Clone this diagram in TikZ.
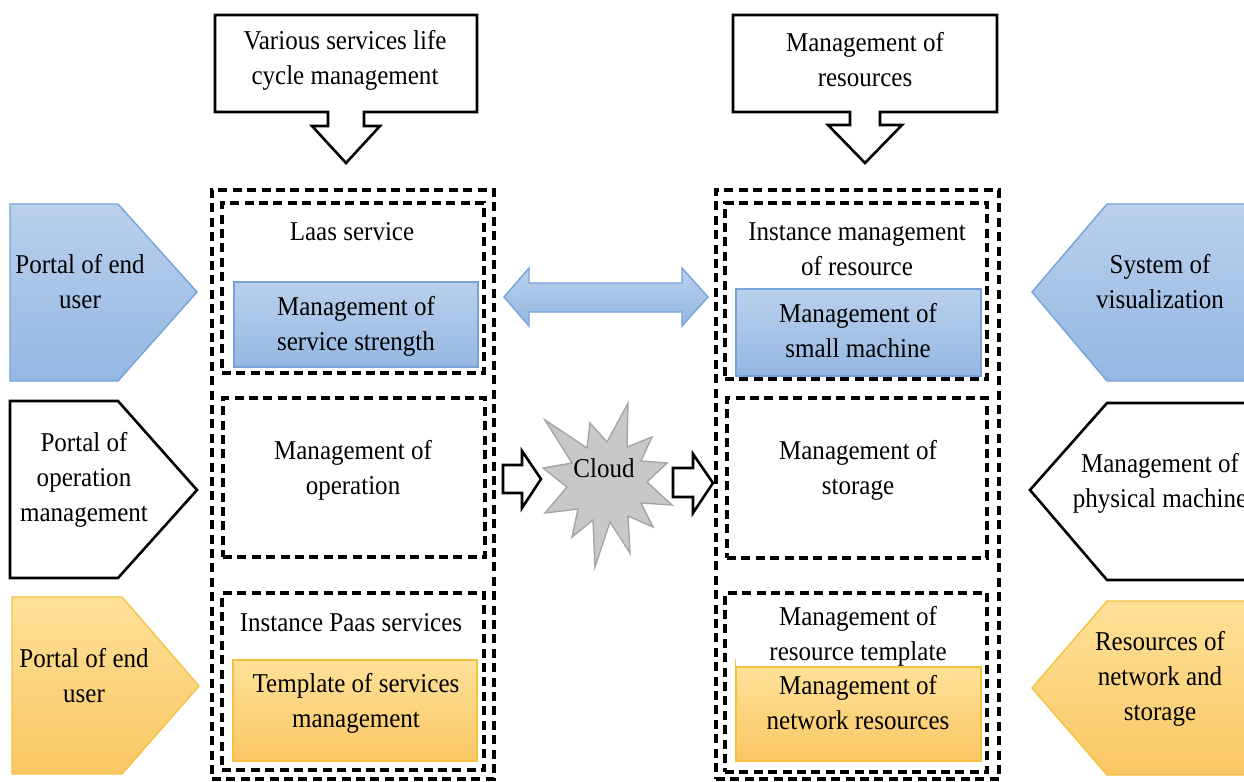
\documentclass[tikz,border=0pt]{standalone}
\usepackage{fontspec}
\setmainfont{Liberation Serif}[FakeStretch=0.92]
\usetikzlibrary{fit}
\definecolor{bluetop}{RGB}{186,208,236}
\definecolor{bluebot}{RGB}{148,183,226}
\definecolor{blueedge}{RGB}{118,163,219}
\definecolor{yeltop}{RGB}{254,225,152}
\definecolor{yelbot}{RGB}{249,199,100}
\definecolor{yeledge}{RGB}{246,193,66}
\definecolor{cloudfill}{RGB}{200,200,200}
\definecolor{cloudedge}{RGB}{165,165,165}
\begin{document}
\begin{tikzpicture}[x=0.5pt,y=-0.5pt,
  txt/.style={align=center, font=\fontsize{13.6}{17.5}\selectfont, inner sep=0pt},
  solidline/.style={draw=black, line width=1.3pt, line join=miter},
  dashbox/.style={draw=black, line width=1.6pt, dash pattern=on 4.5pt off 2.7pt, inner sep=0pt},
  bluefill/.style={top color=bluetop, bottom color=bluebot, draw=blueedge, line width=0.7pt, inner sep=0pt},
  yelfill/.style={top color=yeltop, bottom color=yelbot, draw=yeledge, line width=0.7pt, inner sep=0pt},
  cloudstyle/.style={fill=cloudfill, draw=cloudedge, line width=0.7pt, line join=miter},
  ]
\useasboundingbox (0,0) rectangle (1244,782);
\fill[white] (0,0) rectangle (1244,782);
\clip (0,0) rectangle (1244,782);

% ---- top callouts
\draw[solidline, fill=white] (215,15) -- (477,15) -- (477,112) -- (364,112) -- (364,126) -- (380,126)
  -- (346,163) -- (312,126) -- (328,126) -- (328,112) -- (215,112) -- cycle;
\node[txt] (c1) at (345,60) {Various services life\\cycle management};
\draw[solidline, fill=white] (733,15) -- (997,15) -- (997,112) -- (880,112) -- (880,125) -- (902,125)
  -- (865,163) -- (828,125) -- (850,125) -- (850,112) -- (733,112) -- cycle;
\node[txt] (c2) at (865,60) {Management of\\resources};

% ---- outer dashed columns
\node[dashbox, fit={(212,190) (494,779)}] (Lout) {};
\node[dashbox, fit={(716,190) (999,779)}] (Rout) {};

% ---- left inner boxes
\node[dashbox, fit={(222,203) (484,373)}] (L1) {};
\node[txt] (L1t) at (352,232) {Laas service};
\node[bluefill, fit={(234,282) (478,367)}] (L1b) {};
\node[txt] (L1bt) at (356,326) {Management of\\service strength};

\node[dashbox, fit={(223,398) (485,557)}] (L2) {};
\node[txt] (L2t) at (353,470) {Management of\\operation};

\node[dashbox, fit={(222,593) (484,770)}] (L3) {};
\node[txt] (L3t) at (351,623) {Instance Paas services};
\node[yelfill, fit={(233,660) (477,761)}] (L3b) {};
\node[txt] (L3bt) at (356,703) {Template of services\\management};

% ---- right inner boxes
\node[dashbox, fit={(725,203) (987,379)}] (R1) {};
\node[txt] (R1t) at (857,249) {Instance management\\of resource};
\node[bluefill, fit={(736,289) (981,376)}] (R1b) {};
\node[txt] (R1bt) at (858,331) {Management of\\small machine};

\node[dashbox, fit={(727,398) (987,558)}] (R2) {};
\node[txt] (R2t) at (858,470) {Management of\\storage};

\node[dashbox, fit={(725,593) (987,772)}] (R3) {};
\node[txt] (R3t) at (858,636) {Management of\\resource template};
\node[yelfill, fit={(736,667) (981,761)}] (R3b) {};
\draw[yeledge, line width=0.8pt] (R3b.north west) -- ++(0,-7);
\node[txt] (R3bt) at (858,703) {Management of\\network resources};

% ---- left pentagons
\draw[bluefill] (10,204) -- (118,204) -- (197,292) -- (118,381) -- (10,381) -- cycle;
\node[txt] (P1) at (80,282) {Portal of end\\user};
\draw[solidline, fill=white] (10,401) -- (118,401) -- (197,490) -- (118,578) -- (10,578) -- cycle;
\node[txt] (P2) at (84,480) {Portal of\\operation\\management};
\draw[yelfill] (12,597) -- (122,597) -- (199,686) -- (122,774) -- (12,774) -- cycle;
\node[txt] (P3) at (84,676) {Portal of end\\user};

% ---- right pentagons
\draw[bluefill] (1250,204) -- (1107,204) -- (1032,292) -- (1107,381) -- (1250,381) -- cycle;
\node[txt] (Q1) at (1160,282) {System of\\visualization};
\draw[solidline, fill=white] (1250,403) -- (1107,403) -- (1030,490) -- (1107,580) -- (1250,580) -- cycle;
\node[txt] (Q2) at (1160,483) {Management of\\physical machine};
\draw[yelfill] (1250,601) -- (1107,601) -- (1032,688) -- (1107,775) -- (1250,775) -- cycle;
\node[txt] (Q3) at (1160,679) {Resources of\\network and\\storage};

% ---- double blue arrow
\draw[bluefill] (504,297) -- (529,268) -- (529,283) -- (682,283) -- (682,268) -- (708,297)
  -- (682,326) -- (682,312) -- (529,312) -- (529,326) -- cycle;

% ---- cloud star
\begin{scope}[shift={(607,482)}]
\draw[cloudstyle] (-62,-62) -- (-20,-34) -- (-17,-59) -- (0,-40) -- (21,-79) -- (20,-35)
  -- (45,-45) -- (34,-21) -- (60,-19) -- (40,0) -- (65,23) -- (34,21) -- (46,45) -- (21,34)
  -- (23,71) -- (3,40) -- (-12,85) -- (-14,38) -- (-35,55) -- (-29,27) -- (-62,31) -- (-40,5)
  -- (-64,-14) -- (-35,-19) -- cycle;
\end{scope}
\node[txt] (cloud) at (604,468) {Cloud};

% ---- block arrows around the cloud
\draw[solidline, fill=white] (503,465) -- (522,465) -- (522,451) -- (541,479) -- (522,508) -- (522,493) -- (503,493) -- cycle;
\draw[solidline, fill=white] (673,468) -- (693,468) -- (693,454) -- (713,483) -- (693,513) -- (693,497) -- (673,497) -- cycle;
\end{tikzpicture}
\end{document}
